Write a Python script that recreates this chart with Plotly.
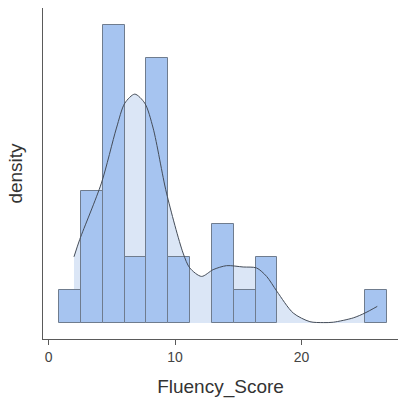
import numpy as np
import plotly.graph_objects as go

# Histogram of Fluency_Score: 15 equal-width bins
bin_start = 0.82
bin_width = 1.727
counts = [1, 4, 9, 2, 8, 2, 0, 3, 1, 2, 0, 0, 0, 0, 1]

# Kernel density estimate of the same variable
kde_x = [2.00, 2.45, 4.17, 5.36, 6.02, 6.81, 7.60, 8.26, 9.32, 10.63, 11.16,
         12.09, 13.01, 14.07, 15.38, 16.44, 17.24, 18.05, 19.34, 20.66,
         21.72, 22.51, 24.09, 25.02, 25.99]
kde_y = [0.0351, 0.0442, 0.0742, 0.1034, 0.1166, 0.1214, 0.1166, 0.1034,
         0.0689, 0.0371, 0.0292, 0.0247, 0.0283, 0.0304, 0.0297, 0.0292,
         0.0247, 0.0168, 0.0053, 0.0007, 0.0002, 0.0004, 0.0027, 0.0053,
         0.0088]

x_ticks = [0, 10, 20]

n_obs = sum(counts)
centers = [bin_start + (i + 0.5) * bin_width for i in range(len(counts))]
dens = [c / (n_obs * bin_width) if c > 0 else None for c in counts]

x_range = [-0.45, 27.63]
y_range = [-0.0085, 0.1671]

axis_col = "#5a5a5a"
font_family = "Liberation Sans, Arial, sans-serif"

fig = go.Figure()

# density area (bottom layer)
fig.add_trace(go.Scatter(
    x=kde_x, y=kde_y, mode="lines", fill="tozeroy",
    fillcolor="#dbe6f6", line=dict(width=0, shape="spline", smoothing=0.8),
    hoverinfo="skip", showlegend=False, xaxis="x", yaxis="y",
))

# histogram bars on an overlaid axis pair so they sit above the area
fig.add_trace(go.Bar(
    x=centers, y=dens, width=bin_width,
    marker=dict(color="#a6c4f0", line=dict(color="#6f7c8e", width=1)),
    showlegend=False, xaxis="x2", yaxis="y2",
))

# density outline on top
fig.add_trace(go.Scatter(
    x=kde_x, y=kde_y, mode="lines",
    line=dict(color="#444c58", width=1, shape="spline", smoothing=0.8),
    hoverinfo="skip", showlegend=False, xaxis="x3", yaxis="y3",
))

hidden = dict(visible=False, showgrid=False, zeroline=False)

fig.update_layout(
    width=398, height=405,
    margin=dict(l=43, r=0, t=8, b=66),
    paper_bgcolor="white", plot_bgcolor="white",
    bargap=0,
    font=dict(family=font_family, color="#333333"),
    xaxis=dict(
        range=x_range,
        tickvals=x_ticks, ticktext=[str(v) for v in x_ticks],
        ticks="outside", ticklen=5, tickcolor=axis_col, tickwidth=1,
        tickfont=dict(size=14, color="#444444"),
        showline=True, linecolor=axis_col, linewidth=1.3,
        showgrid=False, zeroline=False,
        title=dict(text="Fluency_Score", font=dict(size=19, color="#333333"), standoff=15),
    ),
    yaxis=dict(
        range=y_range,
        showticklabels=False, ticks="",
        showline=True, linecolor=axis_col, linewidth=1.3,
        showgrid=False, zeroline=False,
        title=dict(text="density", font=dict(size=19, color="#333333"), standoff=14),
    ),
    xaxis2=dict(range=x_range, overlaying="x", **hidden),
    yaxis2=dict(range=y_range, overlaying="y", **hidden),
    xaxis3=dict(range=x_range, overlaying="x", **hidden),
    yaxis3=dict(range=y_range, overlaying="y", **hidden),
)

fig.write_html("out.html")
